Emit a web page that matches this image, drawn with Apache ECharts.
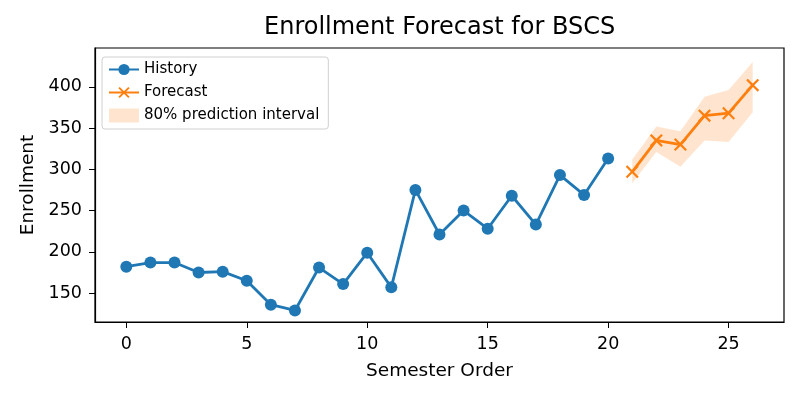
<!DOCTYPE html>
<html>
<head>
<meta charset="utf-8">
<script src="https://cdn.jsdelivr.net/npm/echarts@6/dist/echarts.min.js"></script>
<style>
html, body { margin: 0; padding: 0; background: #fff; }
#chart { width: 804px; height: 400px; }
</style>
</head>
<body>
<div id="chart"></div>
<script>
// data
var histX = [0, 1, 2, 3, 4, 5, 6, 7, 8, 9, 10, 11, 12, 13, 14, 15, 16, 17, 18, 19, 20]
var histY = [182, 187, 187, 175, 176, 165, 136, 129, 181, 161, 199, 157, 275, 221, 250, 228, 268, 233, 293, 269, 313]
var fcX = [21, 22, 23, 24, 25, 26]
var fcY = [297, 335, 330, 365, 368, 402]
var lowY = [283, 321, 303, 335, 333, 369]
var highY = [312, 352, 346, 388, 396, 430]
var xTicks = [0, 5, 10, 15, 20, 25]
var yTicks = [150, 200, 250, 300, 350, 400]

var font = 'DejaVu Sans'
var blue = '#1f77b4'
var orange = '#ff7f0e'
var bandColor = 'rgba(255,127,14,0.2)'
var xMark = 'path://M0,1.2L1.2,0L5,3.8L8.8,0L10,1.2L6.2,5L10,8.8L8.8,10L5,6.2L1.2,10L0,8.8L3.8,5Z'

function pairs(xs, ys) {
    var out = []
    for (var i = 0; i < xs.length; i++) out.push([xs[i], ys[i]])
    return out
}

// band polygon: upper edge left->right, then lower edge right->left
function renderBand(params, api) {
    var pts = []
    for (var i = 0; i < fcX.length; i++) pts.push(api.coord([fcX[i], highY[i]]))
    for (var j = fcX.length - 1; j >= 0; j--) pts.push(api.coord([fcX[j], lowY[j]]))
    return {
        type: 'polygon',
        shape: { points: pts },
        style: { fill: bandColor, stroke: 'none' },
        silent: true
    }
}

var chart = echarts.init(document.getElementById('chart'))

var option = {
    animation: false,
    backgroundColor: '#fff',
    textStyle: { fontFamily: font },
    title: {
        text: 'Enrollment Forecast for BSCS',
        left: 264,
        top: 16,
        padding: 0,
        textStyle: { fontFamily: font, fontSize: 24, fontWeight: 'normal', color: '#000' }
    },
    legend: {
        orient: 'vertical',
        left: 102,
        top: 57,
        padding: [5, 9, 6, 6],
        itemGap: 8,
        itemWidth: 30,
        itemHeight: 14,
        backgroundColor: '#fff',
        borderColor: '#d0d0d0',
        borderWidth: 1,
        borderRadius: 3,
        textStyle: { fontFamily: font, fontSize: 15, color: '#000' },
        data: [
            { name: 'History' },
            { name: 'Forecast' },
            { name: '80% prediction interval', icon: 'rect', itemStyle: { color: bandColor, borderWidth: 0 } }
        ]
    },
    grid: {
        left: 95,
        right: 20,
        top: 48,
        bottom: 78,
        show: true,
        borderColor: '#000',
        borderWidth: 1.2
    },
    xAxis: {
        type: 'value',
        min: -1.3,
        max: 27.3,
        name: 'Semester Order',
        nameLocation: 'middle',
        nameGap: 40,
        nameTextStyle: { fontFamily: font, fontSize: 18.5, color: '#000' },
        axisLine: { show: true, onZero: false, lineStyle: { color: '#000', width: 1.2 } },
        axisTick: { show: true, length: 6, lineStyle: { color: '#000' }, customValues: xTicks },
        axisLabel: { fontFamily: font, fontSize: 17.5, color: '#000', margin: 13, customValues: xTicks },
        splitLine: { show: false }
    },
    yAxis: {
        type: 'value',
        min: 115,
        max: 447,
        name: 'Enrollment',
        nameLocation: 'middle',
        nameGap: 57,
        nameTextStyle: { fontFamily: font, fontSize: 18.5, color: '#000' },
        axisLine: { show: true, onZero: false, lineStyle: { color: '#000', width: 1.2 } },
        axisTick: { show: true, length: 6, lineStyle: { color: '#000' }, customValues: yTicks },
        axisLabel: { fontFamily: font, fontSize: 17.5, color: '#000', margin: 13, customValues: yTicks },
        splitLine: { show: false }
    },
    series: [
        {
            name: '80% prediction interval',
            type: 'custom',
            renderItem: renderBand,
            data: [0],
            itemStyle: { color: bandColor },
            silent: true,
            z: 1
        },
        {
            name: 'History',
            type: 'line',
            data: pairs(histX, histY),
            symbol: 'circle',
            symbolSize: 12,
            color: blue,
            lineStyle: { color: blue, width: 2.8 },
            itemStyle: { color: blue },
            z: 3
        },
        {
            name: 'Forecast',
            type: 'line',
            data: pairs(fcX, fcY),
            symbol: xMark,
            symbolSize: 13,
            color: orange,
            lineStyle: { color: orange, width: 2.8 },
            itemStyle: { color: orange },
            z: 3
        }
    ]
}

chart.setOption(option)
</script>
</body>
</html>
